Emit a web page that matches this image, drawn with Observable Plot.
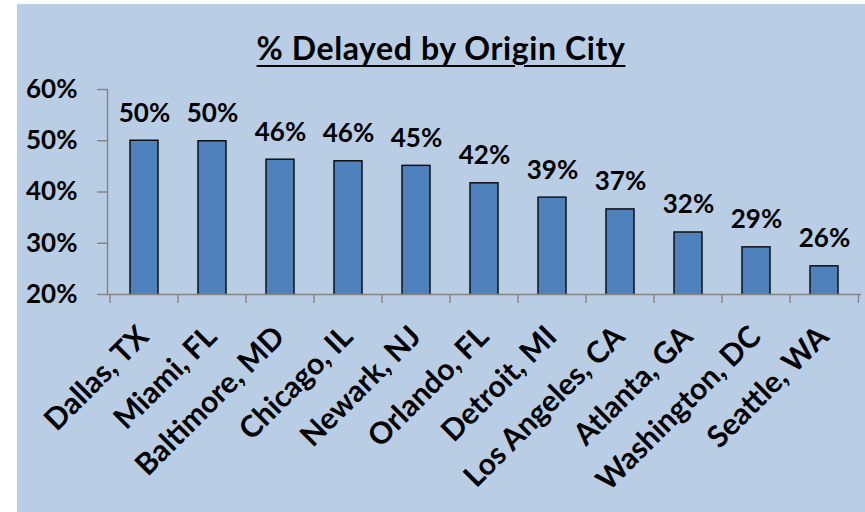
<!DOCTYPE html>
<html>
<head>
<meta charset="utf-8">
<script src="https://cdn.jsdelivr.net/npm/d3@7"></script>
<script src="https://cdn.jsdelivr.net/npm/@observablehq/plot@0.6"></script>
<style>
  html, body { margin: 0; padding: 0; background: #ffffff; }
  #chart { position: absolute; left: 17px; top: 4px; width: 848px; height: 508px; background: #B9CDE5; overflow: hidden; }
  #title { position: absolute; left: 0; width: 848px; top: 28px; text-align: center;
    font-family: Lato, "Noto Sans", sans-serif; font-weight: bold; font-size: 32px; line-height: 32px; color: #000;
    letter-spacing: 0.6px;
    text-decoration: underline; text-decoration-thickness: 2px; text-underline-offset: 5px; }
  #plot { position: absolute; left: 0; top: 0; }
</style>
</head>
<body>
<div id="chart">
  <div id="plot"></div>
  <div id="title">% Delayed by Origin City</div>
</div>
<script>
const cities = ["Dallas, TX", "Miami, FL", "Baltimore, MD", "Chicago, IL", "Newark, NJ", "Orlando, FL", "Detroit, MI", "Los Angeles, CA", "Atlanta, GA", "Washington, DC", "Seattle, WA"];
const delayed = [50.0, 49.9, 46.3, 46.0, 45.1, 41.7, 38.9, 36.6, 32.1, 29.2, 25.5];
const valueLabels = ["50%", "50%", "46%", "46%", "45%", "42%", "39%", "37%", "32%", "29%", "26%"];
const yTicks = [20, 30, 40, 50, 60];
const yDomain = [20, 60];

const data = cities.map((c, i) => ({city: c, value: delayed[i], label: valueLabels[i]}));

const axisGrey = "#868686";

function boundaryTicks(index, scales, values, dims) {
  const bw = (dims.width - dims.marginLeft - dims.marginRight) / cities.length;
  const xs = cities.map(c => scales.x(c));
  xs.push(xs[xs.length - 1] + bw);
  const y0 = dims.height - dims.marginBottom;
  const g = d3.create("svg:g");
  g.selectAll("line").data(xs).join("line")
    .attr("x1", d => d).attr("x2", d => d)
    .attr("y1", y0).attr("y2", y0 + 9)
    .attr("stroke", axisGrey).attr("stroke-width", 1.5);
  return g.node();
}

const chart = Plot.plot({
  width: 848,
  height: 508,
  marginLeft: 90,
  marginRight: 5,
  marginTop: 85,
  marginBottom: 218,
  style: {background: "transparent", fontFamily: "Lato, 'Noto Sans', sans-serif", color: "#000"},
  x: {type: "band", domain: cities, padding: 0, axis: null},
  y: {domain: yDomain, axis: null, label: null},
  marks: [
    Plot.barY(data, {x: "city", y: "value", fill: "#4F81BD", stroke: "#111111", strokeWidth: 1.5, insetLeft: 20, insetRight: 20, clip: true}),
    Plot.axisY({ticks: yTicks, label: null, tickFormat: d => d + "%", tickSize: 10, tickPadding: 20, fontSize: 26, fontWeight: "bold", stroke: axisGrey, strokeWidth: 1.5, fill: "#000", strokeOpacity: 1}),
    Plot.frame({anchor: "left", stroke: axisGrey, strokeWidth: 1.5, strokeOpacity: 1}),
    Plot.frame({anchor: "bottom", stroke: axisGrey, strokeWidth: 1.5, strokeOpacity: 1}),
    boundaryTicks,
    Plot.text(data, {x: "city", y: "value", text: "label", dy: -19, lineAnchor: "bottom", fontSize: 26, fontWeight: "bold", fill: "#000"}),
    Plot.text(cities, {x: d => d, frameAnchor: "bottom", rotate: -45, textAnchor: "end", lineAnchor: "bottom", dx: 6, dy: 44, fontSize: 30, fontWeight: "bold", fill: "#000"})
  ]
});
document.getElementById("plot").appendChild(chart);
</script>
</body>
</html>
